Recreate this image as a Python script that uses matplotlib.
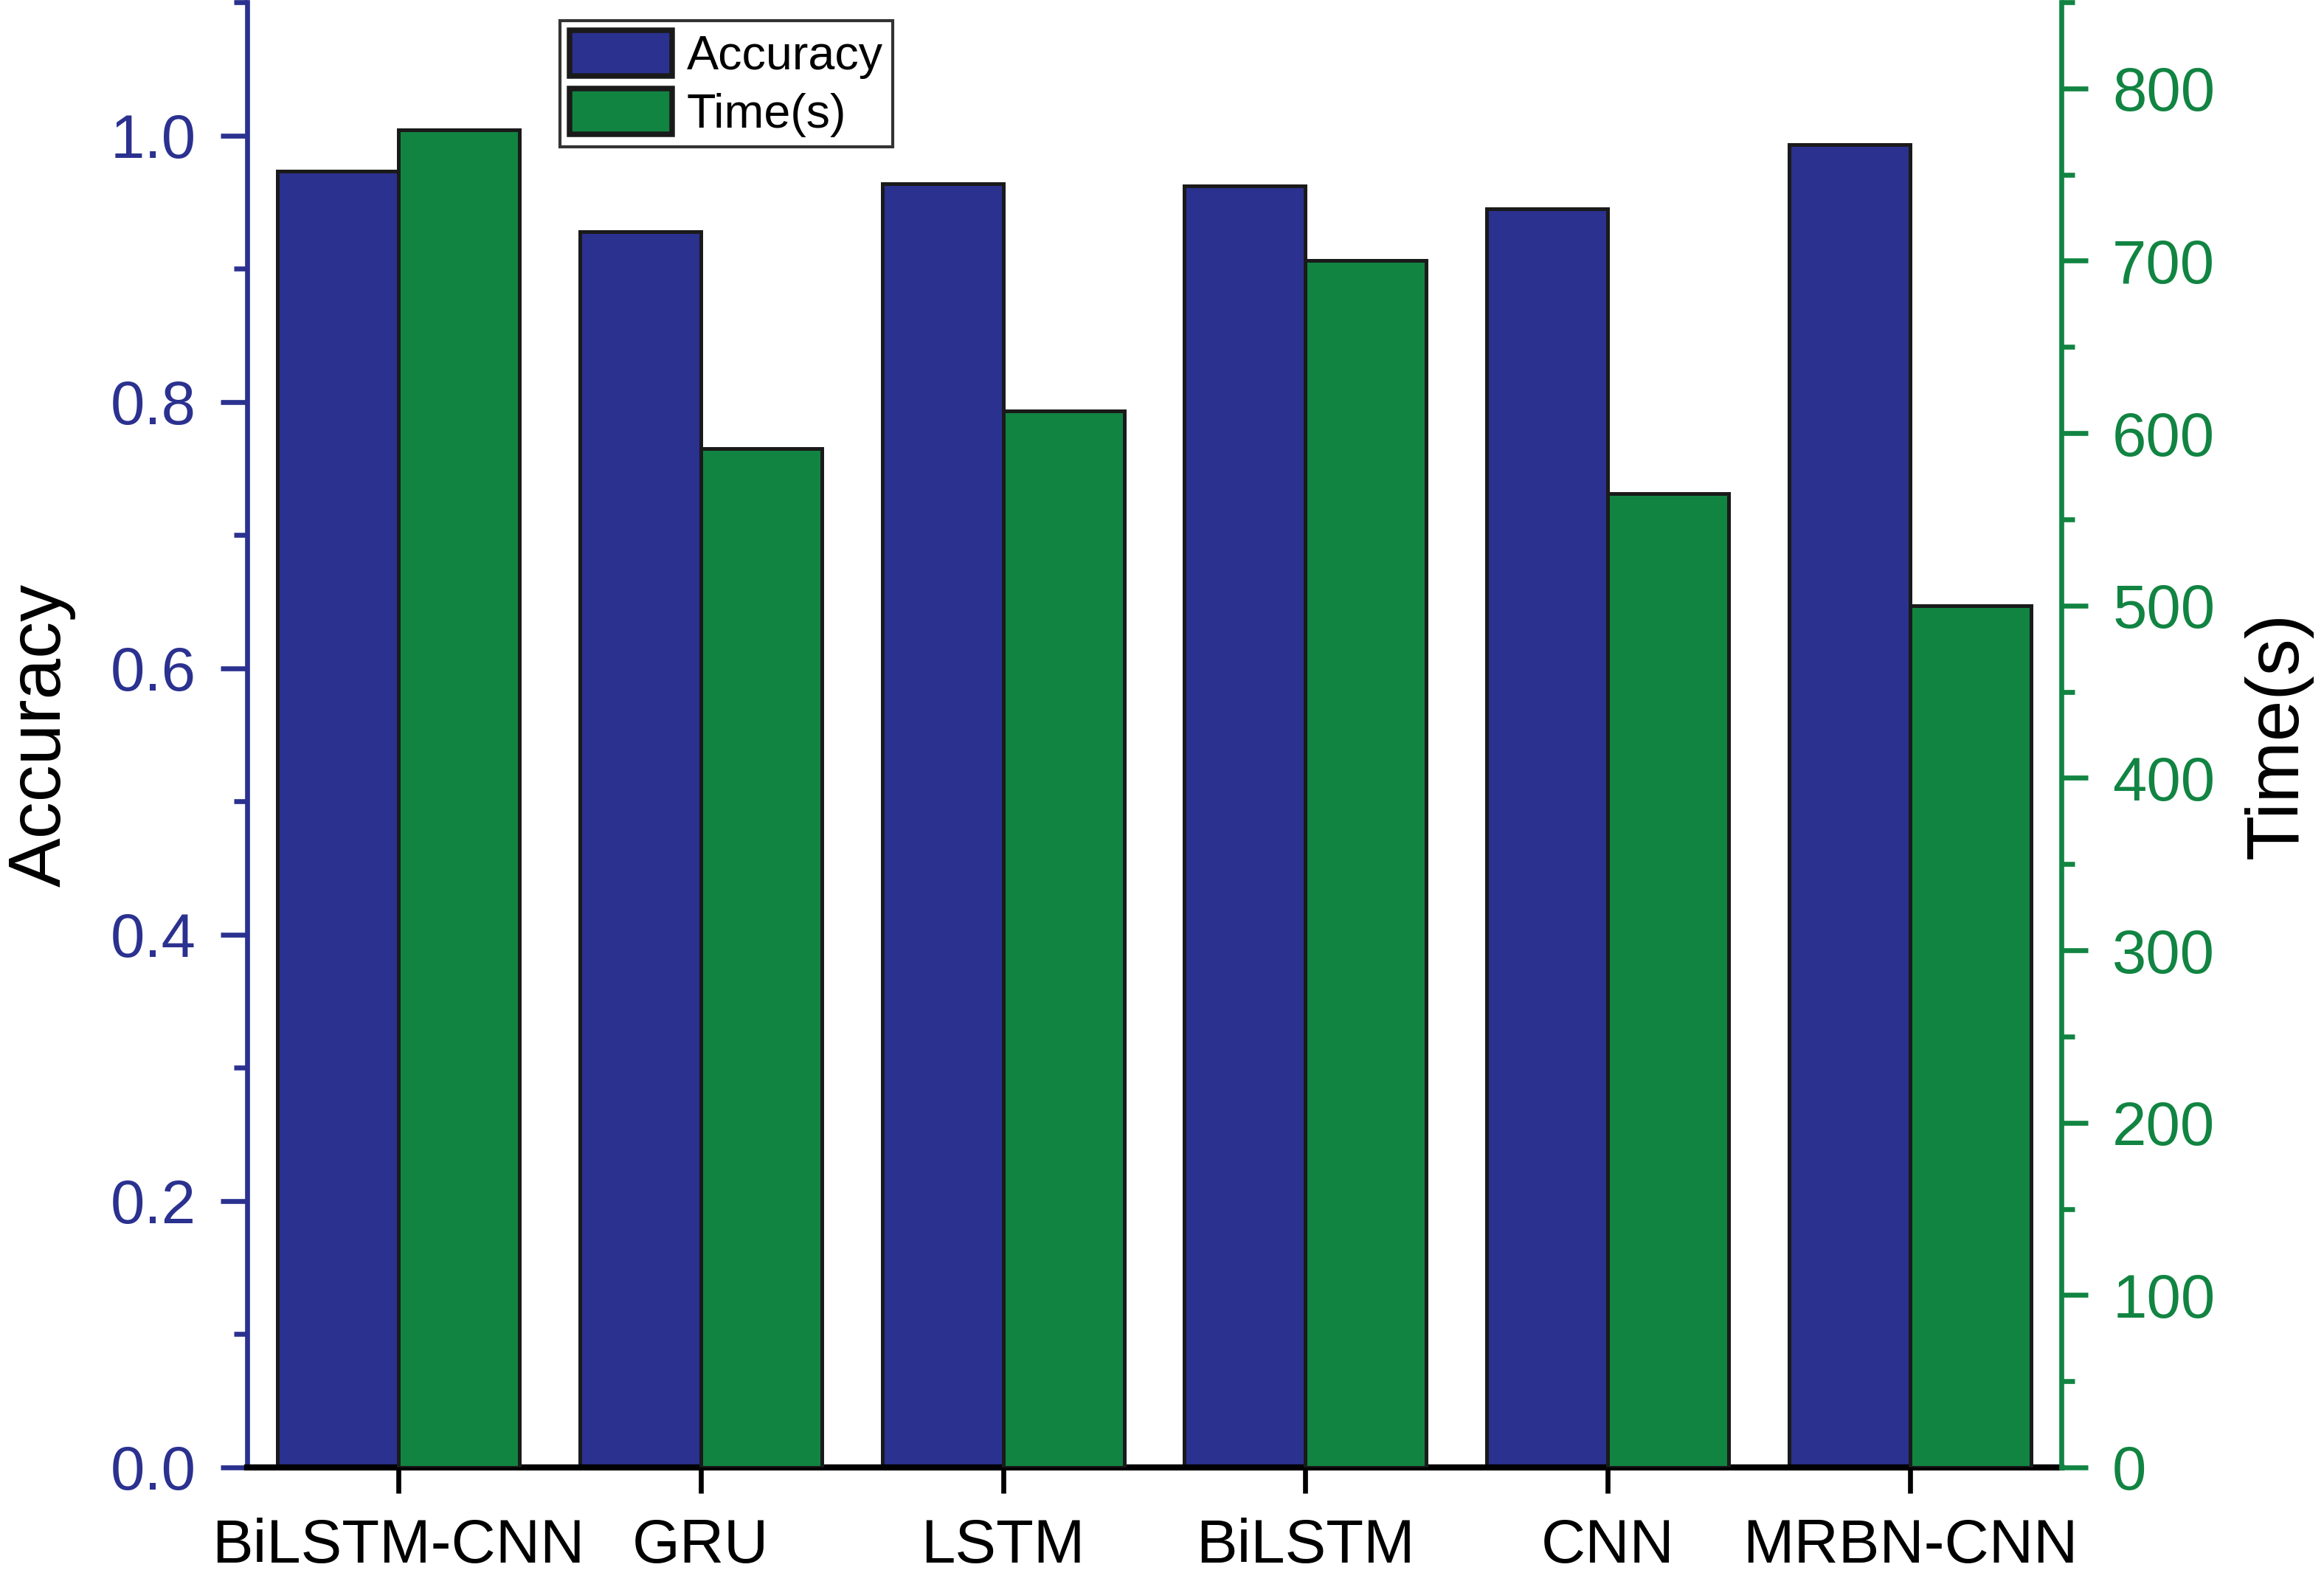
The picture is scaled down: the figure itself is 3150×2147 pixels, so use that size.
import matplotlib
matplotlib.use("Agg")
import matplotlib.pyplot as plt
import numpy as np
from matplotlib.ticker import MultipleLocator

plt.rcParams['font.family'] = ['Liberation Sans', 'DejaVu Sans']

models = ["BiLSTM-CNN", "GRU", "LSTM", "BiLSTM", "CNN", "MRBN-CNN"]
accuracy = [0.973, 0.928, 0.964, 0.962, 0.945, 0.993]
time_s = [776, 591, 613, 700, 565, 500]

BLUE = "#2B318F"
GREEN = "#118442"
EDGE = "#1a1a1a"

fig = plt.figure(figsize=(10.5, 2147 / 300), dpi=300)
ax = fig.add_axes([335 / 3150, 1 - 1989 / 2147, (2794 - 335) / 3150, (1989 - 3) / 2147])
ax2 = ax.twinx()

x = np.arange(len(models))
w = 0.4
b1 = ax.bar(x - w / 2, accuracy, width=w, color=BLUE, edgecolor=EDGE, linewidth=1.2, label="Accuracy")
b2 = ax2.bar(x + w / 2, time_s, width=w, color=GREEN, edgecolor=EDGE, linewidth=1.2, label="Time(s)")

ax.set_xlim(-0.5, len(models) - 0.5)
ax.set_ylim(0, 1.1)
ax2.set_ylim(0, 850)

ax.set_xticks(x)
ax.set_xticklabels(models, fontsize=20)
ax.tick_params(axis='x', direction='out', length=8.4, width=1.6, pad=8, colors='black')

ax.yaxis.set_major_locator(MultipleLocator(0.2))
ax.yaxis.set_minor_locator(MultipleLocator(0.1))
ax.yaxis.set_major_formatter(matplotlib.ticker.FormatStrFormatter('%.1f'))
ax.tick_params(axis='y', which='major', direction='out', length=8.6, width=1.6, pad=8,
               colors=BLUE, labelsize=20)
ax.tick_params(axis='y', which='minor', direction='out', length=4.3, width=1.6, colors=BLUE)

ax2.yaxis.set_major_locator(MultipleLocator(100))
ax2.yaxis.set_minor_locator(MultipleLocator(50))
ax2.tick_params(axis='y', which='major', direction='out', length=8.6, width=1.6, pad=8,
                colors=GREEN, labelsize=20)
ax2.tick_params(axis='y', which='minor', direction='out', length=4.3, width=1.6, colors=GREEN)

for s in ['top', 'right']:
    ax.spines[s].set_visible(False)
for s in ['top', 'left', 'bottom']:
    ax2.spines[s].set_visible(False)
ax.spines['left'].set_color(BLUE)
ax.spines['left'].set_linewidth(1.6)
ax.spines['bottom'].set_color('black')
ax.spines['bottom'].set_linewidth(2.0)
ax.spines['bottom'].set_zorder(5)
ax2.spines['right'].set_color(GREEN)
ax2.spines['right'].set_linewidth(1.6)

ax.set_ylabel("Accuracy", fontsize=24, color='black', va='center')
ax.yaxis.set_label_coords(-0.1135, 0.5)
ax2.set_ylabel("Time(s)", fontsize=24, color='black', va='center', rotation=90)
ax2.yaxis.set_label_coords(1.1196, 0.5)

leg = fig.legend([b1, b2], ["Accuracy", "Time(s)"], loc='upper left',
                 bbox_to_anchor=(378 * 2.009 / 3150, 1 - 14 * 2.009 / 2147),
                 fontsize=15.5, frameon=True, fancybox=False, edgecolor='black',
                 handlelength=2.15, handleheight=1.1, handletextpad=0.3,
                 labelspacing=0.2, borderpad=0.2, borderaxespad=0)
leg.get_frame().set_linewidth(1.0)
for h in leg.legend_handles:
    h.set_linewidth(1.8)

fig.savefig("out.png", dpi=300)
